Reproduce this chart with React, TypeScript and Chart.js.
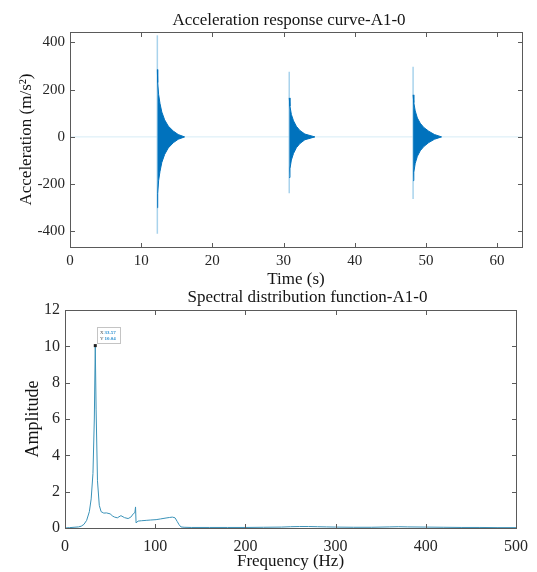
import { useEffect, useRef } from "react";
import { Chart, registerables } from "chart.js";

Chart.register(...registerables);

const FONT = "'Liberation Serif', 'Times New Roman', serif";

// ---------- Top chart: acceleration response ----------
const timeTicks = [0, 10, 20, 30, 40, 50, 60];
const accelTicks = [-400, -200, 0, 200, 400];
const baselineTime = [0, 63.5];
const baselineAccel = [0, 0];
const spikeTime = [12.27, 30.8, 48.2];
const spikeMax = [430, 276, 297];
const spikeMin = [-410, -239, -263];

const burst1Time = [12.27, 12.32, 12.45, 12.65, 12.9, 13.3, 13.8, 14.5, 15.2, 16.1];
const burst1Upper = [285, 230, 180, 140, 105, 72, 46, 25, 10, 0];
const burst1Lower = [-300, -240, -185, -145, -108, -74, -47, -25, -10, 0];

const burst2Time = [30.8, 30.9, 31.1, 31.4, 31.8, 32.3, 33.0, 34.4];
const burst2Upper = [165, 130, 95, 68, 45, 27, 12, 0];
const burst2Lower = [-172, -135, -98, -70, -46, -28, -12, 0];

const burst3Time = [48.2, 48.3, 48.5, 48.8, 49.2, 49.7, 50.4, 51.2, 52.2];
const burst3Upper = [178, 145, 110, 80, 58, 40, 24, 10, 0];
const burst3Lower = [-185, -150, -112, -82, -59, -41, -24, -10, 0];

// ---------- Bottom chart: spectrum ----------
const freqTicks = [0, 100, 200, 300, 400, 500];
const ampTicks = [0, 2, 4, 6, 8, 10, 12];
const frequency = [
  0, 5, 10, 15, 18, 21, 24, 27, 29, 31, 32.5, 33.57, 34.5, 36, 38, 40, 43, 46, 50, 53,
  55, 58, 62, 66, 70, 73, 76, 77.5, 78.2, 78.8, 81, 85, 90, 95, 101, 106, 112, 116, 119,
  122, 124.5, 126.5, 128.5, 132, 140, 160, 180, 200, 220, 240, 250, 260, 270, 280, 290,
  300, 320, 340, 360, 370, 380, 400, 420, 440, 460, 480, 500,
];
const amplitude = [
  0, 0.02, 0.04, 0.06, 0.1, 0.2, 0.42, 0.9, 1.6, 3.0, 6.0, 10.04, 6.5, 2.6, 1.25, 0.9,
  0.82, 0.83, 0.78, 0.65, 0.6, 0.56, 0.68, 0.57, 0.52, 0.6, 0.8, 0.85, 1.16, 0.28, 0.38,
  0.4, 0.42, 0.44, 0.46, 0.5, 0.55, 0.58, 0.6, 0.56, 0.35, 0.18, 0.06, 0.04, 0.03, 0.03,
  0.03, 0.03, 0.04, 0.05, 0.07, 0.08, 0.08, 0.07, 0.06, 0.05, 0.04, 0.04, 0.06, 0.07,
  0.06, 0.05, 0.04, 0.03, 0.03, 0.02, 0.02,
];
const peakFreq = 33.57;
const peakAmp = 10.04;

const pts = (xs: number[], ys: number[]) => xs.map((x, i) => ({ x, y: ys[i] }));

const AXIS_COLOR = "#5a5a5a";
const TEXT_COLOR = "#262626";

const framePlugin = {
  id: "frame",
  afterDatasetsDraw(chart: any, _args: any, opts: any) {
    const { ctx, chartArea, scales } = chart;
    const { left, right, top, bottom } = chartArea;
    const x = scales.x;
    const y = scales.y;
    ctx.save();
    ctx.strokeStyle = AXIS_COLOR;
    ctx.lineWidth = 1;
    const L = Math.round(left) + 0.5;
    const R = Math.round(right) + 0.5;
    const T = Math.round(top) + 0.5;
    const B = Math.round(bottom) + 0.5;
    ctx.strokeRect(L, T, R - L, B - T);
    const len = 4.5;
    ctx.beginPath();
    x.ticks.forEach((t: any) => {
      const px = Math.round(x.getPixelForValue(t.value)) + 0.5;
      ctx.moveTo(px, B);
      ctx.lineTo(px, B - len);
      ctx.moveTo(px, T);
      ctx.lineTo(px, T + len);
    });
    y.ticks.forEach((t: any) => {
      const py = Math.round(y.getPixelForValue(t.value)) + 0.5;
      ctx.moveTo(L, py);
      ctx.lineTo(L + len, py);
      ctx.moveTo(R, py);
      ctx.lineTo(R - len, py);
    });
    ctx.stroke();
    if (opts && opts.text) {
      ctx.font = `17px ${FONT}`;
      ctx.fillStyle = "#141414";
      ctx.textAlign = "center";
      ctx.textBaseline = "alphabetic";
      ctx.fillText(opts.text, opts.cx, opts.baseline);
    }
    ctx.restore();
  },
};

const datatipPlugin = {
  id: "datatip",
  afterDatasetsDraw(chart: any, _args: any, opts: any) {
    if (!opts || !opts.show) return;
    const { ctx, scales } = chart;
    const px = scales.x.getPixelForValue(peakFreq);
    const py = scales.y.getPixelForValue(peakAmp);
    ctx.save();
    ctx.fillStyle = "#202020";
    ctx.fillRect(px - 1.5, py - 1.5, 3, 3);
    const bx = Math.round(px + 1.5) + 0.5;
    const by = Math.round(py - 19) + 0.5;
    ctx.fillStyle = "#ffffff";
    ctx.fillRect(bx, by, 23, 16);
    ctx.strokeStyle = "#c4c4c4";
    ctx.lineWidth = 1;
    ctx.strokeRect(bx, by, 23, 16);
    ctx.font = `5px ${FONT}`;
    ctx.textBaseline = "middle";
    ctx.textAlign = "left";
    ctx.fillStyle = "#555";
    ctx.fillText("X", bx + 2.5, by + 5);
    ctx.fillText("Y", bx + 2.5, by + 11);
    ctx.font = `bold 5px ${FONT}`;
    ctx.fillStyle = "#2a8fd0";
    ctx.fillText(peakFreq.toFixed(2), bx + 7, by + 5);
    ctx.fillText(peakAmp.toFixed(2), bx + 7, by + 11);
    ctx.restore();
  },
};

function tickSetter(values: number[]) {
  return (scale: any) => {
    scale.ticks = values.map((v) => ({ value: v }));
  };
}

export default function App() {
  const topRef = useRef<HTMLCanvasElement>(null);
  const botRef = useRef<HTMLCanvasElement>(null);

  useEffect(() => {
    const burstSets = (t: number[], up: number[], lo: number[]) => [
      {
        data: pts(t, up),
        borderColor: "#0072BD",
        backgroundColor: "#0072BD",
        borderWidth: 1,
        pointRadius: 0,
        fill: "+1",
        order: 0,
      },
      {
        data: pts(t, lo),
        borderColor: "#0072BD",
        borderWidth: 1,
        pointRadius: 0,
        fill: false,
        order: 0,
      },
    ];

    const spikeSets = spikeTime.map((t, i) => ({
      data: [
        { x: t, y: spikeMin[i] },
        { x: t, y: spikeMax[i] },
      ],
      borderColor: "#a9d3ec",
      borderWidth: 1.5,
      pointRadius: 0,
      fill: false,
      order: 1,
    }));

    const top = new Chart(topRef.current as HTMLCanvasElement, {
      type: "line",
      data: {
        datasets: [
          ...burstSets(burst1Time, burst1Upper, burst1Lower),
          ...burstSets(burst2Time, burst2Upper, burst2Lower),
          ...burstSets(burst3Time, burst3Upper, burst3Lower),
          ...spikeSets,
          {
            data: pts(baselineTime, baselineAccel),
            borderColor: "#d6ecf6",
            borderWidth: 1,
            pointRadius: 0,
            fill: false,
            order: 2,
          },
        ] as any,
      },
      options: {
        responsive: false,
        animation: false,
        layout: { padding: { top: 32, left: 0, right: 15, bottom: 0 } },
        plugins: {
          legend: { display: false },
          tooltip: { enabled: false },
          frame: { text: "Acceleration response curve-A1-0", cx: 289, baseline: 24.5 },
        } as any,
        scales: {
          x: {
            type: "linear",
            min: 0,
            max: 63.5,
            afterBuildTicks: tickSetter(timeTicks),
            afterFit: (s: any) => {
              s.height = 43;
            },
            grid: { display: false, drawTicks: false },
            border: { display: false },
            ticks: {
              font: { family: FONT, size: 15 },
              color: TEXT_COLOR,
              padding: 5,
              maxRotation: 0,
              autoSkip: false,
            },
            title: {
              display: true,
              text: "Time (s)",
              font: { family: FONT, size: 17 },
              color: "#141414",
              padding: { top: 1, bottom: 0 },
            },
          },
          y: {
            type: "linear",
            min: -466,
            max: 444,
            afterBuildTicks: tickSetter(accelTicks),
            afterFit: (s: any) => {
              s.width = 70;
            },
            grid: { display: false, drawTicks: false },
            border: { display: false },
            ticks: {
              font: { family: FONT, size: 15 },
              color: TEXT_COLOR,
              padding: 5,
              autoSkip: false,
            },
            title: {
              display: true,
              text: "Acceleration (m/s²)",
              font: { family: FONT, size: 17 },
              color: "#141414",
              padding: { top: 16, bottom: 0 },
            },
          },
        },
      } as any,
      plugins: [framePlugin],
    });

    const bot = new Chart(botRef.current as HTMLCanvasElement, {
      type: "line",
      data: {
        datasets: [
          {
            data: pts(frequency, amplitude),
            borderColor: "#3a92b8",
            borderWidth: 1,
            pointRadius: 0,
            fill: false,
          },
        ],
      },
      options: {
        responsive: false,
        animation: false,
        layout: { padding: { top: 27, left: 0, right: 16, bottom: 0 } },
        plugins: {
          legend: { display: false },
          tooltip: { enabled: false },
          frame: { text: "Spectral distribution function-A1-0", cx: 307.5, baseline: 18.7 },
          datatip: { show: true },
        } as any,
        scales: {
          x: {
            type: "linear",
            min: 0,
            max: 500,
            afterBuildTicks: tickSetter(freqTicks),
            afterFit: (s: any) => {
              s.height = 44;
            },
            grid: { display: false, drawTicks: false },
            border: { display: false },
            ticks: {
              font: { family: FONT, size: 16 },
              color: TEXT_COLOR,
              padding: 9,
              maxRotation: 0,
              autoSkip: false,
            },
            title: {
              display: true,
              text: "Frequency (Hz)",
              font: { family: FONT, size: 17 },
              color: "#141414",
              padding: { top: 1, bottom: 0 },
            },
          },
          y: {
            type: "linear",
            min: 0,
            max: 12,
            afterBuildTicks: tickSetter(ampTicks),
            afterFit: (s: any) => {
              s.width = 65;
            },
            grid: { display: false, drawTicks: false },
            border: { display: false },
            ticks: {
              font: { family: FONT, size: 16 },
              color: TEXT_COLOR,
              padding: 5,
              autoSkip: false,
            },
            title: {
              display: true,
              text: "Amplitude",
              font: { family: FONT, size: 18 },
              color: "#141414",
              padding: { top: 22, bottom: 0 },
            },
          },
        },
      } as any,
      plugins: [framePlugin, datatipPlugin],
    });

    return () => {
      top.destroy();
      bot.destroy();
    };
  }, []);

  return (
    <div
      style={{
        position: "absolute",
        left: 0,
        top: 0,
        width: 537,
        height: 572,
        background: "#ffffff",
        overflow: "hidden",
      }}
    >
      <canvas ref={topRef} width={537} height={290} style={{ position: "absolute", left: 0, top: 0 }} />
      <canvas ref={botRef} width={537} height={289} style={{ position: "absolute", left: 0, top: 283 }} />
    </div>
  );
}
